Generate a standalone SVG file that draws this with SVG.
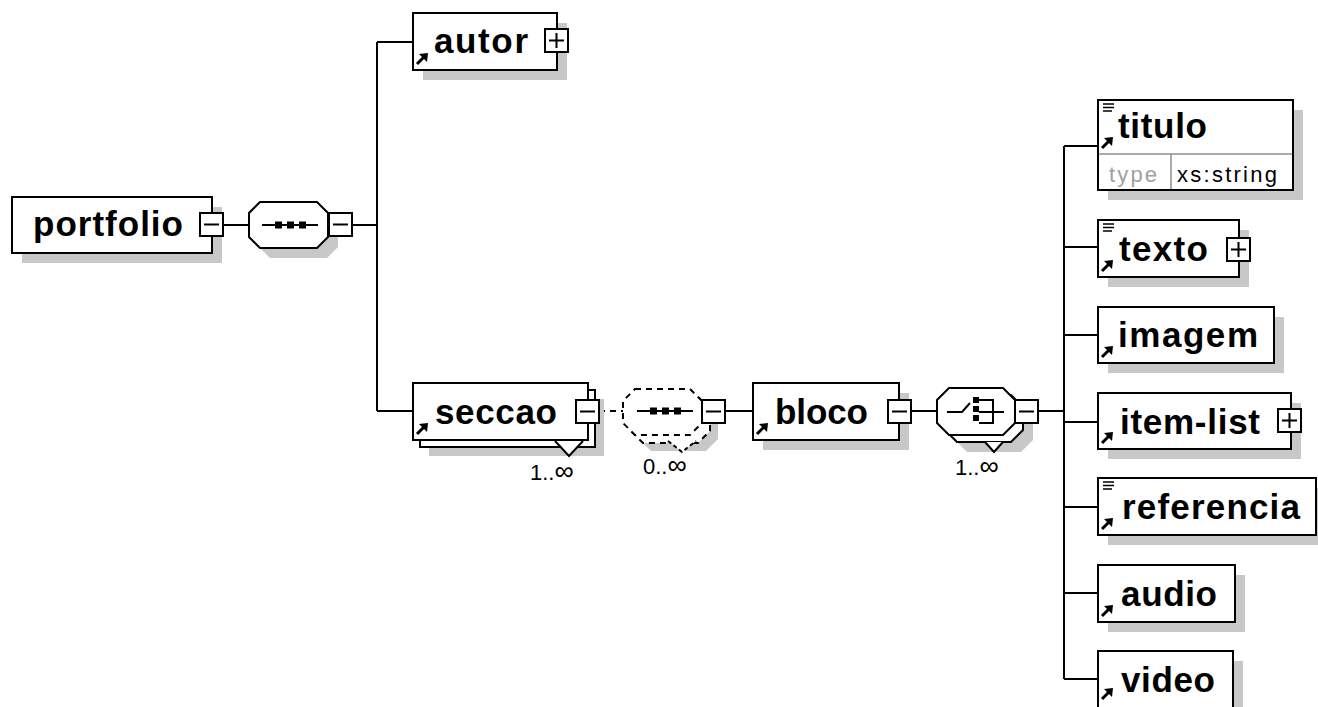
<svg xmlns="http://www.w3.org/2000/svg" xmlns:xlink="http://www.w3.org/1999/xlink" width="1318" height="707" viewBox="0 0 1318 707">
<style>
.box{fill:#fff;stroke:#000;stroke-width:2}
.shd{fill:#c8c8c8;stroke:none}
.ln{fill:none;stroke:#000;stroke-width:2}
.dash{fill:#fff;stroke:#000;stroke-width:2;stroke-dasharray:6 5}
.dl{fill:none;stroke:#000;stroke-width:2;stroke-dasharray:6 5}
.nm{font-family:"Liberation Sans",Arial,sans-serif;font-weight:bold;font-size:35px;fill:#000}
.occ{font-family:"Liberation Sans",Arial,sans-serif;font-size:22px;fill:#000}
.inf{font-size:27px}
.typ{font-family:"Liberation Sans",Arial,sans-serif;font-size:22px}
.div{stroke:#909090;stroke-width:1.5;fill:none}
</style>
<defs>
<g id="ref"><path d="M4,-6 L11,-13" stroke="#000" stroke-width="3" fill="none"/><polygon points="15,-17 6,-16 14,-8" fill="#000"/></g>
<g id="eq"><path d="M5,4 H16 M5,7.5 H16 M5,11 H14" stroke="#000" stroke-width="1.6" fill="none"/></g>
<g id="minus"><rect x="0" y="0" width="23" height="23" class="box"/><path d="M4,11.5 H19" class="ln"/></g>
<g id="plus"><rect x="0" y="0" width="23" height="23" class="box"/><path d="M4,11.5 H19 M11.5,4 V19" class="ln"/></g>
<g id="seqicon"><path d="M0,0 H56" class="ln"/><rect x="13" y="-3.5" width="7" height="7"/><rect x="25" y="-3.5" width="7" height="7"/><rect x="37" y="-3.5" width="7" height="7"/></g>
</defs>

<g id="connectors">
<path d="M224,225 H249 M352,225 H377 M377,42 V411 M377,42 H413 M377,411 H413" class="ln"/>
<path d="M599,411 H623" class="dl"/>
<path d="M725,411 H753 M911,411 H937 M1038,411 H1064 M1064,146 V679" class="ln"/>
<path d="M1064,146 H1098 M1064,247 H1098 M1064,335 H1098 M1064,422 H1098 M1064,507 H1098 M1064,593 H1098 M1064,679 H1098" class="ln"/>
</g>

<g id="portfolio">
<rect x="22" y="207" width="200" height="56" class="shd"/>
<rect x="12" y="197" width="200" height="56" class="box"/>
<text x="33" y="236" class="nm" textLength="150" lengthAdjust="spacing">portfolio</text>
<use xlink:href="#minus" x="200" y="213"/>
</g>

<g id="seq1">
<path d="M270,212 L327,212 L338,223 L338,247 L327,258 L270,258 L259,247 L259,223 Z" class="shd"/>
<path d="M260,202 L317,202 L328,213 L328,237 L317,248 L260,248 L249,237 L249,213 Z" class="box"/>
<use xlink:href="#seqicon" x="262" y="225"/>
<use xlink:href="#minus" x="329" y="213"/>
</g>

<g id="autor">
<rect x="423" y="23" width="144" height="57" class="shd"/>
<rect x="413" y="13" width="144" height="57" class="box"/>
<text x="434" y="53" class="nm" textLength="94" lengthAdjust="spacing">autor</text>
<use xlink:href="#ref" x="413" y="70"/>
<use xlink:href="#plus" x="545" y="29"/>
</g>

<g id="seccao">
<rect x="429" y="399" width="175" height="57" class="shd"/>
<rect x="420" y="390" width="175" height="57" class="box"/>
<rect x="413" y="383" width="175" height="57" class="box"/>
<text x="435" y="424" class="nm" textLength="122" lengthAdjust="spacing">seccao</text>
<use xlink:href="#ref" x="413" y="440"/>
<use xlink:href="#minus" x="576" y="400"/>
<polygon points="555,441 583,441 569,456" fill="#fff"/>
<polyline points="555,441 569,456 583,441" class="ln"/>
<text x="530" y="480" class="occ">1..<tspan class="inf">∞</tspan></text>
</g>

<g id="seq2">
<path d="M651,405 L706,405 L718,417 L718,439 L706,451 L651,451 L639,439 L639,417 Z" class="shd"/>
<path d="M643,397 L698,397 L710,409 L710,431 L698,443 L643,443 L631,431 L631,409 Z" class="dash"/>
<path d="M635,389 L690,389 L702,401 L702,423 L690,435 L635,435 L623,423 L623,401 Z" class="dash"/>
<use xlink:href="#seqicon" x="637" y="411"/>
<polygon points="668,441 696,441 682,452" fill="#fff"/>
<polyline points="668,441 682,452 696,441" class="dl" style="stroke-dasharray:4 3"/>
<use xlink:href="#minus" x="702" y="400"/>
<text x="643" y="474" class="occ">0..<tspan class="inf">∞</tspan></text>
</g>

<g id="bloco">
<rect x="763" y="393" width="146" height="57" class="shd"/>
<rect x="753" y="383" width="146" height="57" class="box"/>
<text x="775" y="424" class="nm" textLength="93" lengthAdjust="spacing">bloco</text>
<use xlink:href="#ref" x="753" y="440"/>
<use xlink:href="#minus" x="888" y="400"/>
</g>

<g id="choice">
<path d="M967,405 L1021,405 L1033,417 L1033,440 L1021,452 L967,452 L955,440 L955,417 Z" class="shd"/>
<path d="M957,395 L1011,395 L1023,407 L1023,430 L1011,442 L957,442 L945,430 L945,407 Z" class="box"/>
<path d="M949,388 L1003,388 L1015,400 L1015,423 L1003,435 L949,435 L937,423 L937,400 Z" class="box"/>
<path d="M947,412 H962 L970,403" class="ln"/>
<rect x="973" y="397" width="6" height="6"/><rect x="973" y="406" width="6" height="6"/><rect x="973" y="415" width="6" height="6"/>
<path d="M979,400 H993 V423 H979 M979,412 H1004" class="ln"/>
<polygon points="985,442 1003,442 994,452" fill="#fff"/>
<polyline points="985,442 994,452 1003,442" class="ln"/>
<use xlink:href="#minus" x="1015" y="400"/>
<text x="955" y="475" class="occ">1..<tspan class="inf">∞</tspan></text>
</g>

<g id="titulo">
<rect x="1108" y="110" width="195" height="90" class="shd"/>
<rect x="1098" y="100" width="195" height="90" class="box"/>
<path d="M1099,154 H1292 M1171,154 V189" class="div"/>
<text x="1118" y="138" class="nm" textLength="89" lengthAdjust="spacing">titulo</text>
<use xlink:href="#eq" x="1098" y="100"/>
<use xlink:href="#ref" x="1098" y="154"/>
<text x="1109" y="182" class="typ" fill="#a0a0a0" textLength="48" lengthAdjust="spacing">type</text>
<text x="1177" y="182" class="typ" fill="#000" textLength="100" lengthAdjust="spacing">xs:string</text>
</g>

<g id="texto">
<rect x="1108" y="230" width="141" height="57" class="shd"/>
<rect x="1098" y="220" width="141" height="57" class="box"/>
<text x="1119" y="261" class="nm" textLength="89" lengthAdjust="spacing">texto</text>
<use xlink:href="#eq" x="1098" y="220"/>
<use xlink:href="#ref" x="1098" y="277"/>
<use xlink:href="#plus" x="1227" y="238"/>
</g>

<g id="imagem">
<rect x="1108" y="317" width="176" height="56" class="shd"/>
<rect x="1098" y="307" width="176" height="56" class="box"/>
<text x="1118" y="347" class="nm" textLength="140" lengthAdjust="spacing">imagem</text>
<use xlink:href="#ref" x="1098" y="363"/>
</g>

<g id="item-list">
<rect x="1108" y="403" width="193" height="56" class="shd"/>
<rect x="1098" y="393" width="193" height="56" class="box"/>
<text x="1120" y="434" class="nm" textLength="140" lengthAdjust="spacing">item-list</text>
<use xlink:href="#ref" x="1098" y="449"/>
<use xlink:href="#plus" x="1278" y="409"/>
</g>

<g id="referencia">
<rect x="1108" y="488" width="218" height="57" class="shd"/>
<rect x="1098" y="478" width="218" height="57" class="box"/>
<text x="1122" y="519" class="nm" textLength="178" lengthAdjust="spacing">referencia</text>
<use xlink:href="#eq" x="1098" y="478"/>
<use xlink:href="#ref" x="1098" y="535"/>
</g>

<g id="audio">
<rect x="1108" y="575" width="137" height="57" class="shd"/>
<rect x="1098" y="565" width="137" height="57" class="box"/>
<text x="1121" y="606" class="nm" textLength="96" lengthAdjust="spacing">audio</text>
<use xlink:href="#ref" x="1098" y="622"/>
</g>

<g id="video">
<rect x="1108" y="661" width="135" height="57" class="shd"/>
<rect x="1098" y="651" width="135" height="57" class="box"/>
<text x="1121" y="692" class="nm" textLength="94" lengthAdjust="spacing">video</text>
<use xlink:href="#ref" x="1098" y="705"/>
</g>
</svg>
